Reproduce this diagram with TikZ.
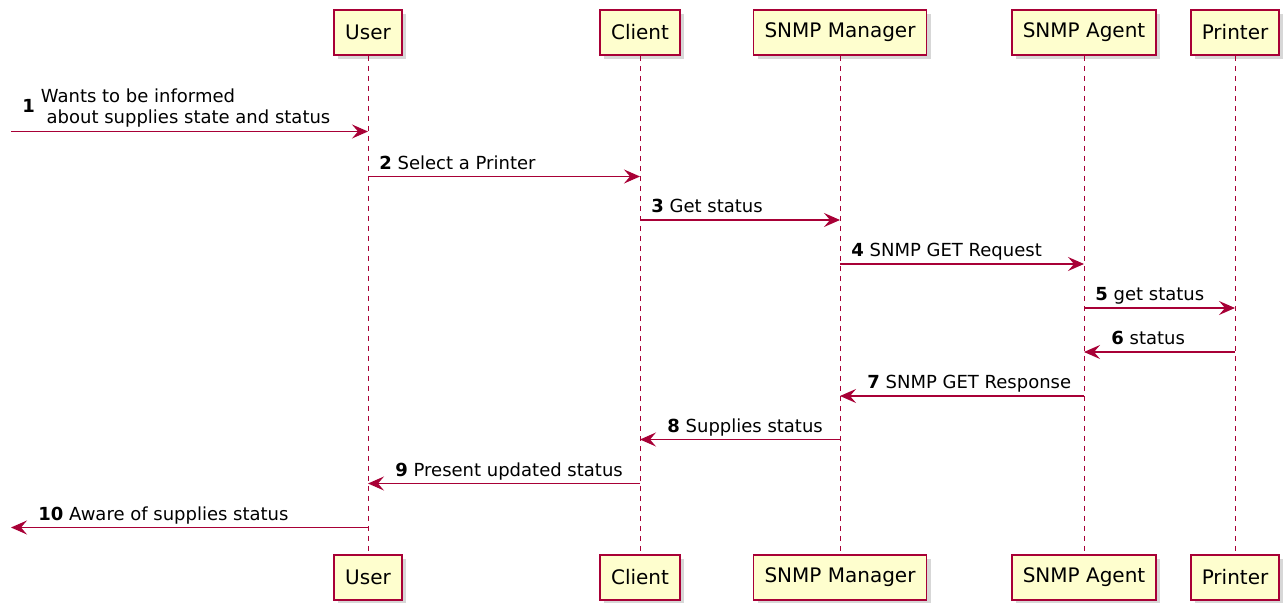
\documentclass[tikz,border=0pt]{standalone}
\usepackage{fontspec}
\setsansfont{DejaVu Sans}
\usetikzlibrary{arrows.meta,positioning,calc,shadows}
\definecolor{seqred}{HTML}{A80036}
\definecolor{seqfill}{HTML}{FEFECE}

\begin{document}
\begin{tikzpicture}[
  x=0.5pt, y=-0.5pt,
  font=\sffamily,
  actor/.style={
    draw=seqred,
    fill=seqfill,
    line width=.9pt,
    minimum height=22.5pt,
    inner xsep=5.5pt,
    font=\sffamily\fontsize{10}{12}\selectfont,
    drop shadow={shadow xshift=2pt, shadow yshift=-2pt, fill=black!35, opacity=.45}
  },
  lifeline/.style={draw=seqred, line width=.5pt, dash pattern=on 2.5pt off 2.5pt},
  msg/.style={draw=seqred, line width=.6pt, -{Stealth[length=8pt, width=7pt, inset=3pt]}},
  lbl/.style={inner sep=0pt, anchor=base west, font=\sffamily\fontsize{9}{10.8}\selectfont},
  node distance=249pt
]
\useasboundingbox (0,0) rectangle (1283,603);

\node[actor] (user) at (368,32.5) {User};
\node[actor] (client) at (640,32.5) {Client};
\node[actor] (manager) at (840,32.5) {SNMP Manager};
\node[actor] (agent) at (1084,32.5) {SNMP Agent};
\node[actor] (printer) at (1235,32.5) {Printer};

\node[actor, below=of user] (user-foot) {User};
\node[actor, below=of client] (client-foot) {Client};
\node[actor, below=of manager] (manager-foot) {SNMP Manager};
\node[actor, below=of agent] (agent-foot) {SNMP Agent};
\node[actor, below=of printer] (printer-foot) {Printer};

\draw[lifeline] (user) -- (user-foot);
\draw[lifeline] (client) -- (client-foot);
\draw[lifeline] (manager) -- (manager-foot);
\draw[lifeline] (agent) -- (agent-foot);
\draw[lifeline] (printer) -- (printer-foot);

\coordinate (row1) at (0,131.5);
\coordinate (row2) at (0,176.5);
\coordinate (row3) at (0,220);
\coordinate (row4) at (0,264);
\coordinate (row5) at (0,308);
\coordinate (row6) at (0,352);
\coordinate (row7) at (0,396);
\coordinate (row8) at (0,439.5);
\coordinate (row9) at (0,483.5);
\coordinate (row10) at (0,527.5);
\coordinate (outside) at (11,0);

\draw[msg] (outside |- row1) -- (user |- row1);
\node[lbl] (m1) at (22,113)
  {\textbf{1}\hspace{3pt}\begin{tabular}{@{}l@{}}Wants to be informed\\\ about supplies state and status\end{tabular}};

\draw[msg] (user |- row2) -- (client |- row2);
\node[lbl] (m2) at ($(user |- row2)+(11,-7)$) {\textbf{2} Select a Printer};

\draw[msg] (client |- row3) -- (manager |- row3);
\node[lbl] (m3) at ($(client |- row3)+(11,-7)$) {\textbf{3} Get status};

\draw[msg] (manager |- row4) -- (agent |- row4);
\node[lbl] (m4) at ($(manager |- row4)+(11,-7)$) {\textbf{4} SNMP GET Request};

\draw[msg] (agent |- row5) -- (printer |- row5);
\node[lbl] (m5) at ($(agent |- row5)+(11,-7)$) {\textbf{5} get status};

\draw[msg] (printer |- row6) -- (agent |- row6);
\node[lbl] (m6) at ($(agent |- row6)+(27,-7)$) {\textbf{6} status};

\draw[msg] (agent |- row7) -- (manager |- row7);
\node[lbl] (m7) at ($(manager |- row7)+(27,-7)$) {\textbf{7} SNMP GET Response};

\draw[msg] (manager |- row8) -- (client |- row8);
\node[lbl] (m8) at ($(client |- row8)+(27,-7)$) {\textbf{8} Supplies status};

\draw[msg] (client |- row9) -- (user |- row9);
\node[lbl] (m9) at ($(user |- row9)+(27,-7)$) {\textbf{9} Present updated status};

\draw[msg] (user |- row10) -- (outside |- row10);
\node[lbl] (m10) at ($(outside |- row10)+(27,-7)$) {\textbf{10} Aware of supplies status};
\end{tikzpicture}
\end{document}
